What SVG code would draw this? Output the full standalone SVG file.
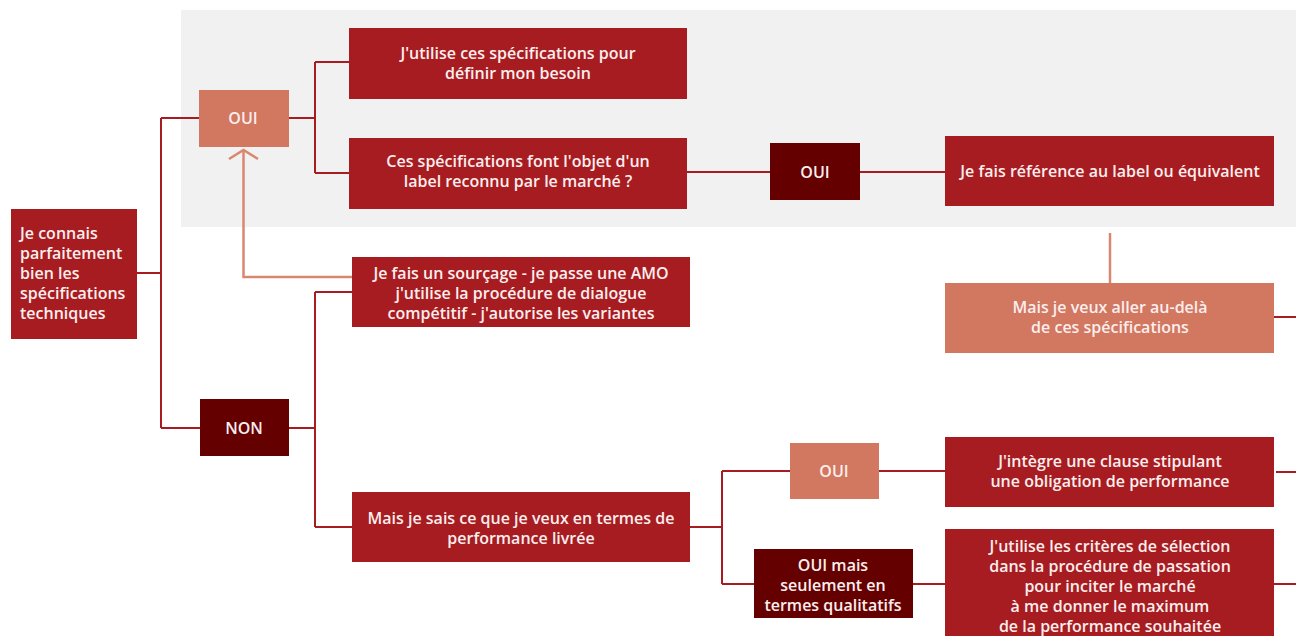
<svg xmlns="http://www.w3.org/2000/svg" width="1296" height="636" viewBox="0 0 1296 636">
<style>
.red{fill:#a71c20}
.dark{fill:#640000}
.sal{fill:#d27760}
.t{font-family:"Open Sans",Lato,"Liberation Sans",sans-serif;font-size:16px;font-weight:600;fill:#fbeeee;text-anchor:middle;dominant-baseline:central}
.tl{text-anchor:start}
.ln{fill:none;stroke:#a71c20;stroke-width:2}
.sl{fill:none;stroke:#d98870;stroke-width:2.5}
</style>
<rect x="181" y="10" width="1115" height="217" fill="#f1f1f1"/>
<g id="connectors">
<path class="ln" d="M137 273H161M161 118V428M161 118H199M161 428H200"/>
<path class="ln" d="M289 118H315M315 62V173M315 62H349M315 173H349"/>
<path class="ln" d="M687 172H770M860 172H945"/>
<path class="ln" d="M289 428H315M315 292V527M315 292H352M315 527H352"/>
<path class="ln" d="M690 527H722M722 471V584M722 471H790M722 584H754M879 471H945M913 584H945"/>
<path class="ln" d="M1276 472H1296M1274 584H1296M1274 317H1296"/>
<path class="sl" d="M1110 233V283"/>
<path class="sl" d="M352 277H243.5V150"/>
<path class="sl" d="M229 159L243.5 150L258 159"/>
</g>
<g id="n-start"><rect class="red" x="11" y="209" width="126" height="130"/>
<text class="t tl" x="20"><tspan x="20" y="233">Je connais</tspan><tspan x="20" y="253">parfaitement</tspan><tspan x="20" y="273">bien les</tspan><tspan x="20" y="293">spécifications</tspan><tspan x="20" y="313">techniques</tspan></text></g>
<g id="n-oui1"><rect class="sal" x="199" y="90" width="90" height="57"/><text class="t" x="243" y="118">OUI</text></g>
<g id="n-non"><rect class="dark" x="200" y="399" width="89" height="57"/><text class="t" x="244" y="428">NON</text></g>
<g id="n-spec"><rect class="red" x="349" y="28" width="338" height="71"/><text class="t"><tspan x="518" y="53">J'utilise ces spécifications pour</tspan><tspan x="518" y="73">définir mon besoin</tspan></text></g>
<g id="n-label"><rect class="red" x="349" y="138" width="338" height="71"/><text class="t"><tspan x="518" y="161">Ces spécifications font l'objet d'un</tspan><tspan x="518" y="181">label reconnu par le marché ?</tspan></text></g>
<g id="n-oui2"><rect class="dark" x="770" y="143" width="90" height="57"/><text class="t" x="815" y="172">OUI</text></g>
<g id="n-ref"><rect class="red" x="945" y="136" width="329" height="70"/><text class="t" x="1110" y="171">Je fais référence au label ou équivalent</text></g>
<g id="n-audela"><rect class="sal" x="945" y="283" width="329" height="70"/><text class="t"><tspan x="1110" y="307">Mais je veux aller au-delà</tspan><tspan x="1110" y="327">de ces spécifications</tspan></text></g>
<g id="n-sourcage"><rect class="red" x="352" y="257" width="338" height="70"/><text class="t"><tspan x="521" y="273">Je fais un sourçage - je passe une AMO</tspan><tspan x="521" y="293">j'utilise la procédure de dialogue</tspan><tspan x="521" y="313">compétitif  - j'autorise les variantes</tspan></text></g>
<g id="n-perf"><rect class="red" x="352" y="492" width="338" height="70"/><text class="t"><tspan x="521" y="518">Mais je sais ce que je veux en termes de</tspan><tspan x="521" y="538">performance livrée</tspan></text></g>
<g id="n-oui3"><rect class="sal" x="790" y="443" width="89" height="56"/><text class="t" x="834" y="471">OUI</text></g>
<g id="n-ouimais"><rect class="dark" x="754" y="549" width="159" height="69"/><text class="t"><tspan x="833" y="565">OUI mais</tspan><tspan x="833" y="585">seulement en</tspan><tspan x="833" y="605">termes qualitatifs</tspan></text></g>
<g id="n-clause"><rect class="red" x="945" y="437" width="329" height="70"/><text class="t"><tspan x="1110" y="461">J'intègre une clause stipulant</tspan><tspan x="1110" y="481">une obligation de performance</tspan></text></g>
<g id="n-criteres"><rect class="red" x="945" y="529" width="329" height="110"/><text class="t"><tspan x="1110" y="546">J'utilise les critères de sélection</tspan><tspan x="1110" y="566">dans la procédure de passation</tspan><tspan x="1110" y="586">pour inciter le marché</tspan><tspan x="1110" y="606">à me donner le maximum</tspan><tspan x="1110" y="626">de la performance souhaitée</tspan></text></g>
</svg>
